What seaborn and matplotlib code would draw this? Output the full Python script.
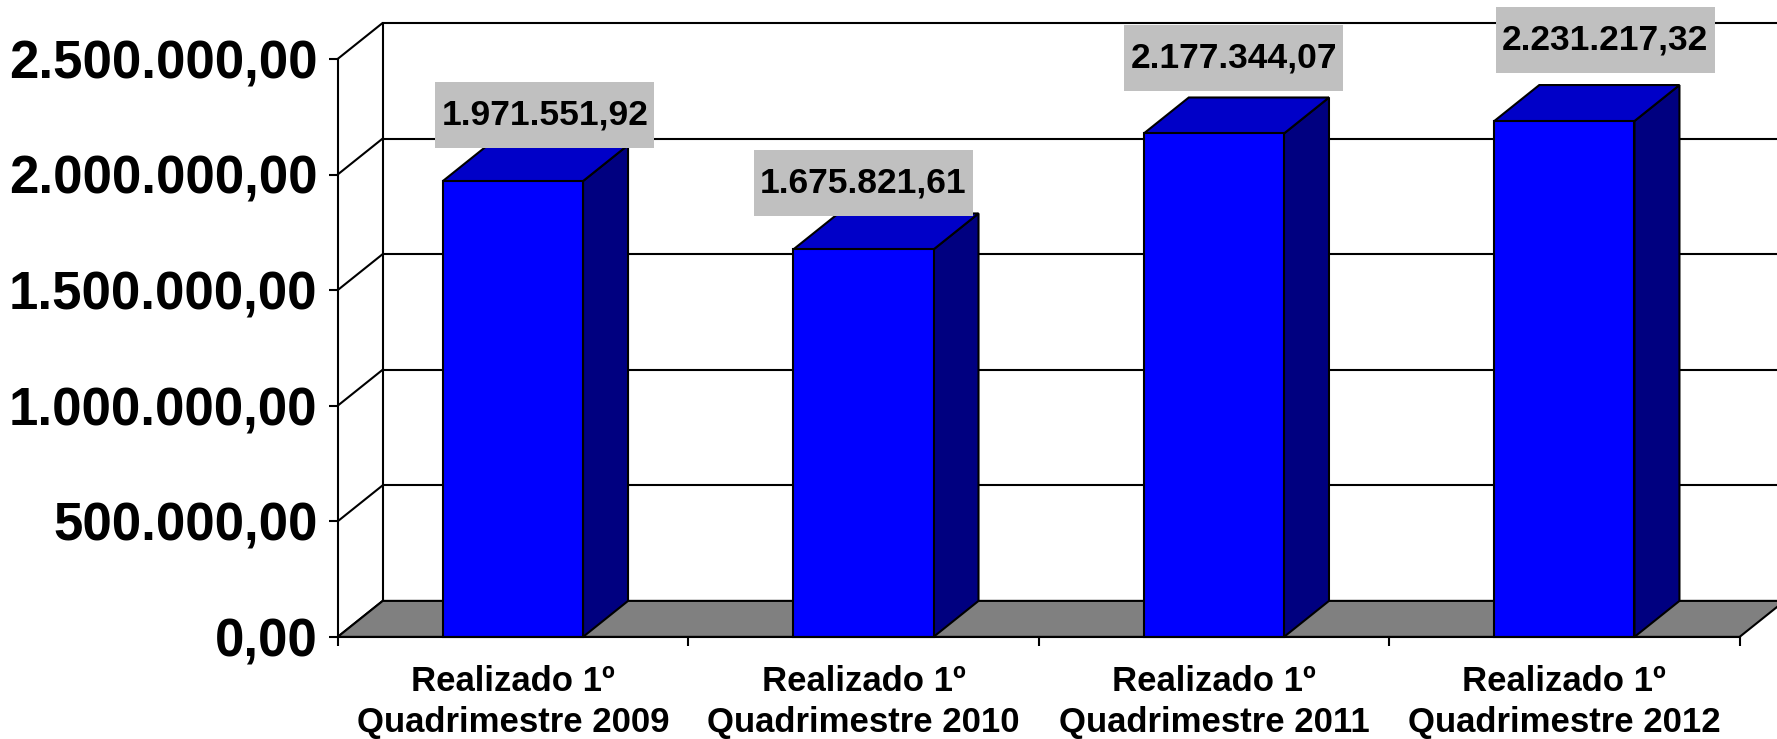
import matplotlib
matplotlib.use("Agg")
import matplotlib.pyplot as plt
from matplotlib.patches import Polygon, Rectangle
import seaborn as sns
import pandas as pd

# ---- data -------------------------------------------------------------
categories = [
    "Realizado 1º\nQuadrimestre 2009",
    "Realizado 1º\nQuadrimestre 2010",
    "Realizado 1º\nQuadrimestre 2011",
    "Realizado 1º\nQuadrimestre 2012",
]
values = [1971551.92, 1675821.61, 2177344.07, 2231217.32]
y_ticks = [0, 500000, 1000000, 1500000, 2000000, 2500000]


def br_number(v):
    """Format a number the Brazilian way: 1.234.567,89"""
    s = f"{v:,.2f}"
    return s.replace(",", "_").replace(".", ",").replace("_", ".")


y_labels = [br_number(v) for v in y_ticks]
value_labels = [br_number(v) for v in values]

# ---- style ------------------------------------------------------------
sns.set_style("white")
plt.rcParams["font.family"] = ["Liberation Sans", "DejaVu Sans"]
plt.rcParams["font.weight"] = "bold"
plt.rcParams["text.color"] = "black"

FRONT = "#0000FF"
SIDE = "#000080"
TOP = "#0000C8"
FLOOR = "#808080"
BOX = "#C0C0C0"
LW = 1.5

# ---- layout (pixels) --------------------------------------------------
W, H, DPI = 1777, 739, 100
left_px, right_front_px = 337.7, 1739.6     # front plane x extent
zero_px, top_tick_px, top_px = 636.9, 58.9, 22.7
depth_px = (45.0, 36.0)                      # 3-D depth offset

fig = plt.figure(figsize=(W / DPI, H / DPI), dpi=DPI)
fig.patch.set_facecolor("white")
ax = fig.add_axes([left_px / W, 1 - zero_px / H,
                   1 - left_px / W, (zero_px - top_px) / H])

n = len(categories)
ppx = (right_front_px - left_px) / n                 # pixels per category
ppy = (zero_px - top_tick_px) / y_ticks[-1]          # pixels per unit
xmax = -0.5 + (W - left_px) / ppx
ymax = (zero_px - top_px) / ppy
dx = depth_px[0] / ppx
dy = depth_px[1] / ppy

# ---- front faces of the bars -------------------------------------------
df = pd.DataFrame({"cat": categories, "val": values})
sns.barplot(data=df, x="cat", y="val", color=FRONT, saturation=1,
            width=0.4, edgecolor="black", linewidth=LW, ax=ax)

ax.set_xlim(-0.5, xmax)
ax.set_ylim(0, ymax)
ax.set_xlabel("")
ax.set_ylabel("")
ax.set_facecolor("white")

# ---- back wall and floor ----------------------------------------------
for v in y_ticks:
    ax.plot([-0.5 + dx, xmax + 1], [v + dy, v + dy], color="black",
            lw=LW, zorder=1, clip_on=False, solid_capstyle="butt")
    ax.plot([-0.5, -0.5 + dx], [v, v + dy], color="black", lw=LW,
            zorder=1, clip_on=False)
ax.plot([-0.5 + dx, -0.5 + dx], [dy, y_ticks[-1] + dy], color="black",
        lw=LW, zorder=1, clip_on=False)

floor = Polygon([(-0.5, 0), (n - 0.5, 0), (n - 0.5 + dx, dy), (-0.5 + dx, dy)],
                closed=True, facecolor=FLOOR, edgecolor="black", lw=LW,
                zorder=2, clip_on=False)
ax.add_patch(floor)

# ---- sides and tops of the bars ----------------------------------------
label_shift_px = [(32, 30), (0, 30), (20, 39), (41, 45)]
box_w, box_h = 219 / ppx, 66 / ppy

for i, bar in enumerate(ax.patches[:n]):
    bar.set_zorder(4)
    bar.set_clip_on(False)
    x0 = bar.get_x()
    x1 = x0 + bar.get_width()
    v = bar.get_height()
    side = Polygon([(x1, 0), (x1 + dx, dy), (x1 + dx, v + dy), (x1, v)],
                   closed=True, facecolor=SIDE, edgecolor="black", lw=LW,
                   zorder=3.9, clip_on=False)
    top = Polygon([(x0, v), (x1, v), (x1 + dx, v + dy), (x0 + dx, v + dy)],
                  closed=True, facecolor=TOP, edgecolor="black", lw=LW,
                  zorder=3.9, clip_on=False)
    ax.add_patch(side)
    ax.add_patch(top)

    # value label in a grey box above the bar
    cx = (x0 + x1) / 2 + label_shift_px[i][0] / ppx
    cy = v + dy + label_shift_px[i][1] / ppy
    ax.add_patch(Rectangle((cx - box_w / 2, cy - box_h / 2), box_w, box_h,
                           facecolor=BOX, edgecolor="none", zorder=5,
                           clip_on=False))
    ax.text(cx, cy, value_labels[i], ha="center", va="center",
            fontsize=25.5, fontweight="bold", color="black", zorder=6,
            clip_on=False)

# ---- axes --------------------------------------------------------------
for s in ("top", "right"):
    ax.spines[s].set_visible(False)
ax.spines["left"].set_bounds(0, y_ticks[-1])
ax.spines["bottom"].set_bounds(-0.5, n - 0.5)
for s in ("left", "bottom"):
    ax.spines[s].set_linewidth(LW)
    ax.spines[s].set_color("black")
    ax.spines[s].set_zorder(4.5)

ax.set_yticks(y_ticks)
ax.set_yticklabels(y_labels)
ax.tick_params(axis="y", left=True, length=6.5, width=LW, pad=8,
               labelsize=38, direction="out", colors="black")

ax.set_xticks(range(n))
ax.set_xticklabels(categories, linespacing=1.33)
ax.set_xticks([i - 0.5 for i in range(n + 1)], minor=True)
ax.tick_params(axis="x", which="major", bottom=True, length=0, pad=20,
               labelsize=25, labelcolor="black")
ax.tick_params(axis="x", which="minor", bottom=True, length=6.5, width=LW,
               direction="out", color="black")
for t in ax.get_xticklabels() + ax.get_yticklabels():
    t.set_fontweight("bold")
    t.set_color("black")

fig.savefig("out.png", dpi=DPI, facecolor="white")
